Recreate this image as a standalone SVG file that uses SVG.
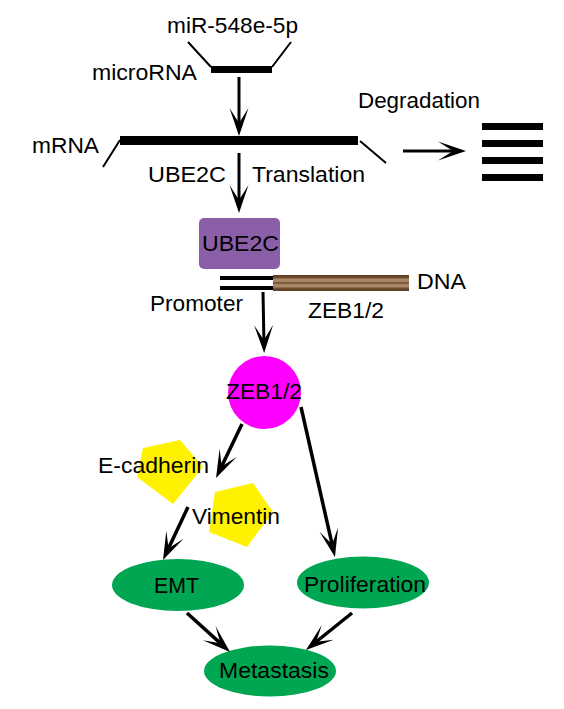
<svg xmlns="http://www.w3.org/2000/svg" width="564" height="709" viewBox="0 0 564 709">
<style>
text{font-family:"Liberation Sans",Arial,sans-serif;font-size:22px;fill:#000}
.bar{fill:#000}
.thin{stroke:#000;stroke-width:2;fill:none}
.arr{stroke:#000;stroke-width:3;fill:none;marker-end:url(#ah)}
.arrb{stroke:#000;stroke-width:3.5;fill:none;marker-end:url(#ah)}
.ell{fill:#00a651}
.pent{fill:#fff200}
</style>
<defs>
<marker id="ah" markerUnits="userSpaceOnUse" markerWidth="30" markerHeight="22" refX="20" refY="10" orient="auto" overflow="visible">
<path d="M0,0.5 L28,10 L0,19.5 L15,10 Z" fill="#000"/>
</marker>
<linearGradient id="dna" x1="0" y1="0" x2="0" y2="1">
<stop offset="0" stop-color="#5e3f22"/>
<stop offset="0.15" stop-color="#6b4a2b"/>
<stop offset="0.28" stop-color="#a88866"/>
<stop offset="0.4" stop-color="#a88866"/>
<stop offset="0.5" stop-color="#6b4a2b"/>
<stop offset="0.6" stop-color="#a88866"/>
<stop offset="0.72" stop-color="#a88866"/>
<stop offset="0.85" stop-color="#6b4a2b"/>
<stop offset="1" stop-color="#5e3f22"/>
</linearGradient>
</defs>

<g id="microRNA">
<text x="167" y="33" textLength="131" lengthAdjust="spacingAndGlyphs">miR-548e-5p</text>
<text x="92" y="80" textLength="105" lengthAdjust="spacingAndGlyphs">microRNA</text>
<rect class="bar" x="211" y="66" width="61" height="7"/>
<path class="thin" d="M188,42 L211,67 M272,67 L291,42"/>
</g>

<g id="mRNA">
<text x="32" y="153" textLength="67" lengthAdjust="spacingAndGlyphs">mRNA</text>
<rect class="bar" x="120" y="136" width="238" height="9"/>
<path class="thin" d="M120,140 L103,167 M360,141 L386,163"/>
<text x="148" y="182" textLength="78" lengthAdjust="spacingAndGlyphs">UBE2C</text>
<text x="252" y="182" textLength="113" lengthAdjust="spacingAndGlyphs">Translation</text>
</g>

<g id="degradation">
<text x="358" y="108" textLength="122" lengthAdjust="spacingAndGlyphs">Degradation</text>
<rect class="bar" x="482" y="123" width="61" height="7"/>
<rect class="bar" x="482" y="140" width="61" height="7"/>
<rect class="bar" x="482" y="157" width="61" height="7"/>
<rect class="bar" x="482" y="174" width="61" height="7"/>
</g>

<g id="UBE2C">
<rect x="199" y="218" width="81" height="51" rx="5" fill="#8b5ea8"/>
<text x="202" y="251" textLength="77" lengthAdjust="spacingAndGlyphs">UBE2C</text>
</g>

<g id="DNA">
<rect class="bar" x="220" y="276" width="53" height="4"/>
<rect class="bar" x="220" y="286" width="53" height="4"/>
<rect x="273" y="275" width="136" height="16" fill="url(#dna)"/>
<text x="417" y="289" textLength="49" lengthAdjust="spacingAndGlyphs">DNA</text>
<text x="150" y="311" textLength="93" lengthAdjust="spacingAndGlyphs">Promoter</text>
<text x="308" y="318" textLength="76" lengthAdjust="spacingAndGlyphs">ZEB1/2</text>
</g>

<g id="ZEB12">
<circle cx="264.5" cy="392.5" r="36.5" fill="#ff00ff"/>
<text x="226" y="399" textLength="76" lengthAdjust="spacingAndGlyphs">ZEB1/2</text>
</g>

<g id="Ecadherin">
<polygon class="pent" points="180,440 203,467 173,504 137,477 143,448"/>
<text x="98" y="473" textLength="111" lengthAdjust="spacingAndGlyphs">E-cadherin</text>
</g>

<g id="Vimentin">
<polygon class="pent" points="253,483 273,512 247,547 209,532 215,492"/>
<text x="192" y="524" textLength="88" lengthAdjust="spacingAndGlyphs">Vimentin</text>
</g>

<g id="EMT">
<ellipse class="ell" cx="178" cy="585" rx="66" ry="26"/>
<text x="154" y="593" textLength="45" lengthAdjust="spacingAndGlyphs">EMT</text>
</g>

<g id="Proliferation">
<ellipse class="ell" cx="363" cy="582.5" rx="66" ry="26"/>
<text x="304" y="592" textLength="122" lengthAdjust="spacingAndGlyphs">Proliferation</text>
</g>

<g id="Metastasis">
<ellipse class="ell" cx="270" cy="671" rx="66" ry="25.5"/>
<text x="219" y="678" textLength="110" lengthAdjust="spacingAndGlyphs">Metastasis</text>
</g>

<g id="connectors">
<path class="arr" d="M239,77 L239,128"/>
<path class="arr" d="M239,153 L239,205"/>
<path class="arr" d="M403,151 L458,151"/>
<path class="arr" d="M263,292 L264,345"/>
<path class="arrb" d="M242,424 L219.5,470.8"/>
<path class="arrb" d="M188,507 L166.4,552.8"/>
<path class="arrb" d="M301,407 L333.2,549.2"/>
<path class="arrb" d="M187,613 L224.1,646.6"/>
<path class="arrb" d="M352,613 L312.2,645"/>
</g>
</svg>
